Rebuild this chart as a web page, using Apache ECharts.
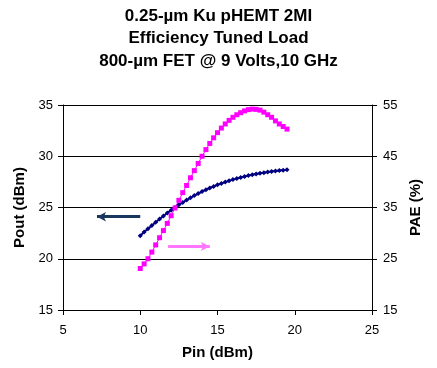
<!DOCTYPE html>
<html><head><meta charset="utf-8">
<script src="https://cdn.jsdelivr.net/npm/echarts@6/dist/echarts.min.js"></script>
<style>html,body{margin:0;padding:0;background:#fff}#c{width:437px;height:368px}</style>
</head><body><div id="c"></div>
<script>
var titleLines = ['0.25-µm Ku pHEMT 2MI', 'Efficiency Tuned Load', '800-µm FET @ 9 Volts,10 GHz'];
var pin = [10,10.25,10.5,10.75,11,11.25,11.5,11.75,12,12.25,12.5,12.75,13,13.25,13.5,13.75,14,14.25,14.5,14.75,15,15.25,15.5,15.75,16,16.25,16.5,16.75,17,17.25,17.5,17.75,18,18.25,18.5,18.75,19,19.25,19.5];
var pout = [22.25,22.6,22.93,23.25,23.57,23.87,24.17,24.46,24.74,25.0,25.26,25.5,25.73,25.95,26.16,26.36,26.55,26.73,26.9,27.06,27.21,27.35,27.48,27.6,27.72,27.83,27.93,28.02,28.11,28.19,28.27,28.34,28.4,28.46,28.51,28.56,28.6,28.64,28.68];
var pae = [23.1,24.0,25.0,26.3,27.7,29.1,30.5,31.9,33.4,34.9,36.4,37.9,39.3,40.8,42.2,43.6,45.0,46.3,47.5,48.6,49.6,50.5,51.3,52.0,52.6,53.1,53.5,53.85,54.1,54.2,54.15,54.0,53.6,53.1,52.6,51.9,51.3,50.8,50.3];
var xTicks = [5,10,15,20,25];
var poutTicks = [15,20,25,30,35];
var paeTicks = [15,25,35,45,55];
// arrow annotations (data coordinates)
var poutArrow = [[10.0, 24.1],[7.2, 24.1]];
var paeArrow = [[11.8, 27.4],[14.5, 27.4]];

var font = 'Liberation Sans, Arial, sans-serif';
var chart = echarts.init(document.getElementById('c'));
chart.setOption({
  animation: false,
  backgroundColor: '#fff',
  title: {
    text: titleLines.join('\n'),
    left: 'center', top: 0,
    textStyle: {fontFamily: font, fontWeight: 'bold', fontSize: 17, lineHeight: 22.5, color: '#000'}
  },
  grid: {left: 63, right: 65, top: 105, bottom: 58},
  xAxis: {
    type: 'value', min: xTicks[0], max: xTicks[xTicks.length-1], interval: 5,
    name: 'Pin (dBm)', nameLocation: 'middle', nameGap: 35,
    nameTextStyle: {fontFamily: font, fontWeight: 'bold', fontSize: 15, color: '#000'},
    axisLine: {show: true, lineStyle: {color: '#000', width: 1}},
    axisTick: {show: true, length: 5, lineStyle: {color: '#000'}},
    axisLabel: {fontFamily: font, fontSize: 13, color: '#000', margin: 14},
    splitLine: {show: false}
  },
  yAxis: [{
    type: 'value', min: poutTicks[0], max: poutTicks[poutTicks.length-1], interval: 5,
    name: 'Pout (dBm)', nameLocation: 'middle', nameGap: 36,
    nameTextStyle: {fontFamily: font, fontWeight: 'bold', fontSize: 15, color: '#000'},
    axisLine: {show: true, lineStyle: {color: '#000', width: 1}},
    axisTick: {show: true, length: 5, lineStyle: {color: '#000'}},
    axisLabel: {fontFamily: font, fontSize: 13, color: '#000', margin: 10},
    splitLine: {show: true, lineStyle: {color: '#000', width: 1}}
  }, {
    type: 'value', min: paeTicks[0], max: paeTicks[paeTicks.length-1], interval: 10,
    name: 'PAE (%)', nameLocation: 'middle', nameGap: 36,
    nameTextStyle: {fontFamily: font, fontWeight: 'bold', fontSize: 15, color: '#000'},
    axisLine: {show: true, lineStyle: {color: '#000', width: 1}},
    axisTick: {show: true, length: 5, lineStyle: {color: '#000'}},
    axisLabel: {fontFamily: font, fontSize: 13, color: '#000', margin: 11},
    splitLine: {show: false}
  }],
  series: [{
    type: 'line', yAxisIndex: 0,
    data: pin.map(function(p,i){return [p, pout[i]];}),
    lineStyle: {color: '#000080', width: 2},
    itemStyle: {color: '#000080'},
    symbol: 'diamond', symbolSize: 5,
    markLine: {
      silent: true, symbol: ['none','arrow'], symbolSize: [7, 9],
      label: {show: false},
      lineStyle: {color: '#17375E', width: 3, type: 'solid'},
      data: [[{coord: poutArrow[0]}, {coord: poutArrow[1]}]]
    }
  }, {
    type: 'line', yAxisIndex: 1,
    data: pin.map(function(p,i){return [p, pae[i]];}),
    lineStyle: {color: '#FF00FF', width: 1},
    itemStyle: {color: '#FF00FF'},
    symbol: 'rect', symbolSize: 5,
    markLine: {
      silent: true, symbol: ['none','arrow'], symbolSize: [7, 9],
      label: {show: false},
      lineStyle: {color: '#FF77FF', width: 3, type: 'solid'},
      data: [[{coord: paeArrow[0]}, {coord: paeArrow[1]}]]
    }
  }]
});
</script></body></html>
